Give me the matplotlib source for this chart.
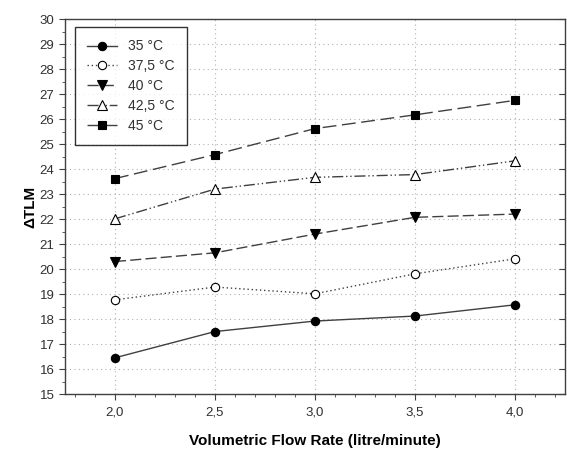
import matplotlib
matplotlib.use("Agg")
import matplotlib.pyplot as plt
from matplotlib.ticker import MultipleLocator, FuncFormatter

flow = [2.0, 2.5, 3.0, 3.5, 4.0]
t35 = [16.45, 17.5, 17.92, 18.12, 18.57]
t375 = [18.77, 19.28, 19.01, 19.81, 20.41]
t40 = [20.3, 20.65, 21.4, 22.07, 22.2]
t425 = [22.01, 23.2, 23.67, 23.78, 24.33]
t45 = [23.62, 24.58, 25.62, 26.17, 26.75]
labels = ["35 °C", "37,5 °C", "40 °C", "42,5 °C", "45 °C"]

plt.rcParams['font.family'] = ['Liberation Sans', 'DejaVu Sans']

fig = plt.figure(figsize=(5.67, 4.55), dpi=100)
ax = fig.add_axes([0.1146, 0.134, 0.8819, 0.824])

lc = '#404040'
series = [
    (t35, dict(linestyle='-', marker='o', mfc='black', mec='black', ms=6)),
    (t375, dict(linestyle=(0, (1, 2)), marker='o', mfc='white', mec='black', ms=6)),
    (t40, dict(linestyle=(0, (8, 3)), marker='v', mfc='black', mec='black', ms=7)),
    (t425, dict(linestyle=(0, (8, 2, 1, 2, 1, 2)), marker='^', mfc='white', mec='black', ms=7)),
    (t45, dict(linestyle=(0, (10, 4)), marker='s', mfc='black', mec='black', ms=6)),
]
for (vals, st), lab in zip(series, labels):
    ax.plot(flow, vals, color=lc, lw=1.0, label=lab, mew=0.8, **st)

ax.set_xlim(1.75, 4.25)
ax.set_ylim(15, 30)
ax.xaxis.set_major_locator(MultipleLocator(0.5))
ax.xaxis.set_minor_locator(MultipleLocator(0.1))
ax.yaxis.set_major_locator(MultipleLocator(1))
ax.yaxis.set_minor_locator(MultipleLocator(0.5))
ax.xaxis.set_major_formatter(FuncFormatter(lambda v, p: f"{v:.1f}".replace('.', ',')))
ax.yaxis.set_major_formatter(FuncFormatter(lambda v, p: f"{v:.0f}"))
ax.grid(True, which='major', linestyle=(0, (1, 3)), color='#b0b0b0', lw=0.8)
ax.set_axisbelow(True)

ax.tick_params(which='major', direction='out', length=4, color='#404040', labelsize=9.5, labelcolor='#303030')
ax.tick_params(which='minor', direction='out', length=2.5, color='#404040')
ax.tick_params(axis='x', pad=5)
for s in ax.spines.values():
    s.set_color('#404040')
    s.set_linewidth(1.0)

ax2 = ax.twinx()
ax2.set_ylim(15, 30)
ax2.yaxis.set_major_locator(MultipleLocator(1))
ax2.tick_params(axis='y', direction='in', length=4, labelright=False, color='#404040')
for s in ax2.spines.values():
    s.set_visible(False)

ax.set_xlabel("Volumetric Flow Rate (litre/minute)", fontsize=11, fontweight='bold', labelpad=11)
ax.set_ylabel("ΔTLM", fontsize=11, fontweight='bold', labelpad=2)

leg = ax.legend(loc='upper left', bbox_to_anchor=(0.02, 0.979), borderaxespad=0, fontsize=10,
                frameon=True, fancybox=False, edgecolor='black', handlelength=2.1,
                labelspacing=0.42, borderpad=0.9, handletextpad=0.8)
leg.get_frame().set_linewidth(1.0)
for t in leg.get_texts():
    t.set_color('#303030')

fig.savefig("out.png", dpi=100)
